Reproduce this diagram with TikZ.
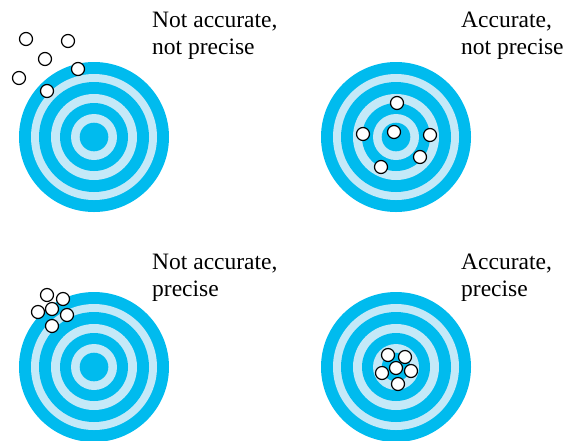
\documentclass[tikz,border=0pt]{standalone}
\usepackage{fontspec}
\setmainfont{Liberation Serif}
\newfontfamily\capfont{Liberation Serif}
\definecolor{tdark}{RGB}{0,187,238}
\definecolor{tlight}{RGB}{196,233,248}
\tikzset{
  shot/.style={circle,draw=black,fill=white,line width=1.2pt,minimum size=13pt,inner sep=0pt},
  caption/.style={anchor=north west,inner sep=0pt,align=left,font=\capfont\fontsize{23.5}{27}\selectfont}
}
\newcommand{\mytarget}[1]{%
  \fill[tdark] (#1) circle (75);
  \fill[tlight] (#1) circle (63);
  \fill[tdark] (#1) circle (55);
  \fill[tlight] (#1) circle (43);
  \fill[tdark] (#1) circle (34);
  \fill[tlight] (#1) circle (23);
  \fill[tdark] (#1) circle (14.3);
}
\begin{document}
\begin{tikzpicture}[x=1pt,y=-1pt]
\useasboundingbox (0,0) rectangle (564,440);
\clip (0,0) rectangle (564,440);
% targets
\mytarget{94,137}
\mytarget{396,137}
\mytarget{94,367}
\mytarget{396,367}
% captions
\node[caption] (c1) at (152,12.4) {Not accurate,\\not precise};
\node[caption] (c2) at (461,12.2) {Accurate,\\not precise};
\node[caption] (c3) at (152,254.4) {Not accurate,\\precise};
\node[caption] (c4) at (461,254.2) {Accurate,\\precise};
% shots: not accurate, not precise
\node[shot] (a1) at (26,39) {};
\node[shot] (a2) at (68,41) {};
\node[shot] (a3) at (45,59) {};
\node[shot] (a4) at (19,78) {};
\node[shot] (a5) at (78,69) {};
\node[shot] (a6) at (47,91) {};
% accurate, not precise
\node[shot] (b1) at (397,103) {};
\node[shot] (b2) at (363,134) {};
\node[shot] (b3) at (394,132) {};
\node[shot] (b4) at (430,135) {};
\node[shot] (b5) at (420,157) {};
\node[shot] (b6) at (381,167) {};
% not accurate, precise
\node[shot] (d1) at (47,295) {};
\node[shot] (d2) at (63,299) {};
\node[shot] (d3) at (52,309) {};
\node[shot] (d4) at (38,312) {};
\node[shot] (d5) at (67,315) {};
\node[shot] (d6) at (52,326) {};
% accurate, precise
\node[shot] (e1) at (388,355) {};
\node[shot] (e2) at (405,357) {};
\node[shot] (e3) at (396,368) {};
\node[shot] (e4) at (382,373) {};
\node[shot] (e5) at (411,371) {};
\node[shot] (e6) at (398,384) {};
\end{tikzpicture}
\end{document}
